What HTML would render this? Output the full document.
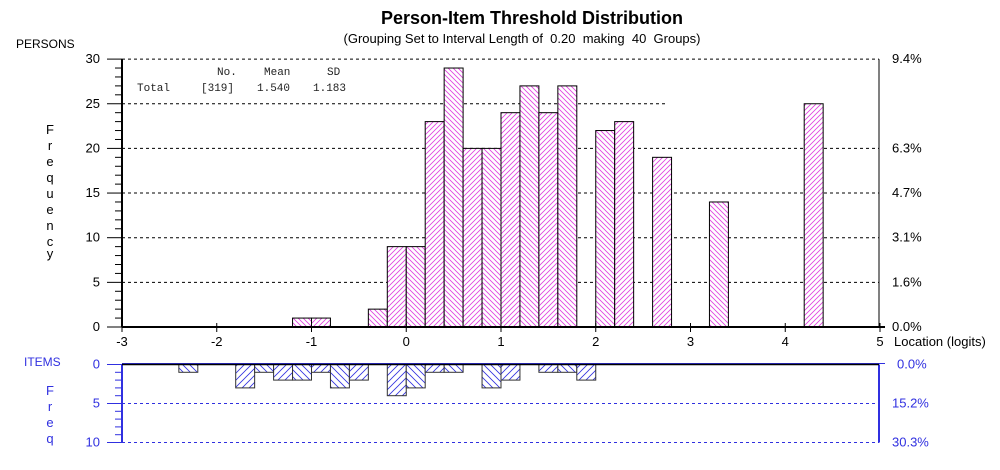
<!DOCTYPE html>
<html><head><meta charset="utf-8"><style>
body{margin:0;background:#fff;font-family:"Liberation Sans",sans-serif}
svg text{font-family:"Liberation Sans",sans-serif}
svg text.mono{font-family:"Liberation Mono",monospace;font-size:11px;white-space:pre}
.pre{white-space:pre}
</style></head><body>
<svg id="c" width="1000" height="465" viewBox="0 0 1000 465">
<defs>
<pattern id="pa" width="5" height="5" patternUnits="userSpaceOnUse"><rect width="5" height="5" fill="#fff"/><path d="M0,5 L5,0 M-1,1 L1,-1 M4,6 L6,4" stroke="#e040e0" stroke-width="0.8"/></pattern>
<pattern id="pb" width="5" height="5" patternUnits="userSpaceOnUse"><rect width="5" height="5" fill="#fff"/><path d="M0,0 L5,5 M-1,4 L1,6 M4,-1 L6,1" stroke="#e040e0" stroke-width="0.8"/></pattern>
<pattern id="ba" width="7" height="7" patternUnits="userSpaceOnUse"><rect width="7" height="7" fill="#fff"/><path d="M0,7 L7,0 M-1,1 L1,-1 M6,8 L8,6" stroke="#3030e0" stroke-width="0.8"/></pattern>
<pattern id="bb" width="7" height="7" patternUnits="userSpaceOnUse"><rect width="7" height="7" fill="#fff"/><path d="M0,0 L7,7 M-1,6 L1,8 M6,-1 L8,1" stroke="#3030e0" stroke-width="0.8"/></pattern>
</defs>
<text x="532" y="24" text-anchor="middle" font-size="18" font-weight="bold">Person-Item Threshold Distribution</text>
<text class="pre" x="522" y="43" text-anchor="middle" font-size="13">(Grouping Set to Interval Length of  0.20  making  40  Groups)</text>
<text x="16" y="48" font-size="12">PERSONS</text>
<g font-size="13" text-anchor="middle">
<text x="50" y="134">F</text><text x="50" y="150">r</text><text x="50" y="166">e</text><text x="50" y="182">q</text><text x="50" y="198">u</text><text x="50" y="214">e</text><text x="50" y="230">n</text><text x="50" y="246">c</text><text x="50" y="258">y</text>
</g>
<text x="24" y="366" font-size="12" fill="#3030e0">ITEMS</text>
<g font-size="13" fill="#3030e0" text-anchor="middle">
<text x="50" y="395">F</text><text x="50" y="411">r</text><text x="50" y="427">e</text><text x="50" y="443">q</text>
</g>
<g fill="#222">
<text class="mono" x="217" y="75">No.</text><text class="mono" x="264" y="75">Mean</text><text class="mono" x="327" y="75">SD</text>
<text class="mono" x="137" y="91">Total</text><text class="mono" x="201" y="91">[319]</text><text class="mono" x="257" y="91">1.540</text><text class="mono" x="313" y="91">1.183</text>
</g>
<g id="g"></g>
</svg>
<script>
const personBinStarts=[-1.2,-1.0,-0.4,-0.2,0.0,0.2,0.4,0.6,0.8,1.0,1.2,1.4,1.6,2.0,2.2,2.6,3.2,4.2];
const personCounts=[1,1,2,9,9,23,29,20,20,24,27,24,27,22,23,19,14,25];
const itemBinStarts=[-2.4,-1.8,-1.6,-1.4,-1.2,-1.0,-0.8,-0.6,-0.2,0.0,0.2,0.4,0.8,1.0,1.4,1.6,1.8];
const itemCounts=[1,3,1,2,2,1,3,2,4,3,1,1,3,2,1,1,2];
const xTicks=[-3,-2,-1,0,1,2,3,4,5];
const pTicks=[0,5,10,15,20,25,30];
const pPct=["0.0%","1.6%","3.1%","4.7%","6.3%","","9.4%"];
const iTicks=[0,5,10];
const iPct=["0.0%","15.2%","30.3%"];
const binW=0.2;
const NS="http://www.w3.org/2000/svg";
const g=document.getElementById('g');
const X=v=>122+(v+3)*94.75;
const YP=v=>327-v*8.93;
const YI=v=>364.5+v*7.8;
function el(t,a,p){const e=document.createElementNS(NS,t);for(const k in a)e.setAttribute(k,a[k]);(p||g).appendChild(e);return e;}
pTicks.forEach((t,i)=>{
  if(t>0){const l=el('line',{x1:122,x2:(t==25?665:879),y1:YP(t),y2:YP(t),stroke:'#000','stroke-dasharray':'3,3','stroke-width':1});
  }
  const tx=el('text',{x:100,y:YP(t)+4,'text-anchor':'end','font-size':13});tx.textContent=t;
  
  if(pPct[i]){const r=el('text',{x:892,y:YP(t)+4,'font-size':13});r.textContent=pPct[i];
  }
});
for(let v=0;v<=30;v++){el('line',{x1:v%5?115:107,x2:122,y1:YP(v),y2:YP(v),stroke:'#000'});}
personBinStarts.forEach((s,i)=>{
  const k=Math.round((s+3)/binW);
  const r=el('rect',{x:X(s),y:YP(personCounts[i]),width:X(s+binW)-X(s),height:YP(0)-YP(personCounts[i]),fill:k%2?'url(#pb)':'url(#pa)',stroke:'#000','stroke-width':1});
  
});
el('line',{x1:122,x2:122,y1:YP(30),y2:YP(0),stroke:'#000','stroke-width':2});
el('line',{x1:879,x2:879,y1:YP(30),y2:YP(0),stroke:'#000','stroke-width':1});
el('line',{x1:122,x2:885,y1:YP(0),y2:YP(0),stroke:'#000','stroke-width':2});
xTicks.forEach(t=>{
  el('line',{x1:X(t),x2:X(t),y1:YP(0)-4,y2:YP(0)+5,stroke:'#000'});
  const tx=el('text',{x:X(t),y:346,'text-anchor':'middle','font-size':13});tx.textContent=t;
  
});
const xl=el('text',{x:894,y:346,'font-size':13});xl.textContent='Location (logits)';

iTicks.forEach((t,i)=>{
  if(t>0){const l=el('line',{x1:122,x2:879,y1:YI(t),y2:YI(t),stroke:'#3030e0','stroke-dasharray':'3,3'});
  }
  const tx=el('text',{x:100,y:YI(t)+4,'text-anchor':'end','font-size':13,fill:'#3030e0'});tx.textContent=t;
  
  const r=el('text',{x:(i==0?897:892),y:YI(t)+4,'font-size':13,fill:'#3030e0'});r.textContent=iPct[i];
  
});
for(let v=0;v<=10;v++){el('line',{x1:v%5?115:107,x2:122,y1:YI(v),y2:YI(v),stroke:'#3030e0'});}
itemBinStarts.forEach((s,i)=>{
  const k=Math.round((s+3)/binW);
  const r=el('rect',{x:X(s),y:YI(0),width:X(s+binW)-X(s),height:YI(itemCounts[i])-YI(0),fill:k%2?'url(#bb)':'url(#ba)',stroke:'#333','stroke-width':1});
  
});
el('line',{x1:122,x2:122,y1:YI(0),y2:YI(10),stroke:'#3030e0','stroke-width':2});
el('line',{x1:879,x2:879,y1:YI(0),y2:YI(10),stroke:'#3030e0','stroke-width':2});
el('line',{x1:122,x2:885,y1:YI(0)-1,y2:YI(0)-1,stroke:'#3030e0','stroke-width':1});
el('line',{x1:122,x2:879,y1:YI(0),y2:YI(0),stroke:'#000','stroke-width':1.5});
</script>
</body></html>
